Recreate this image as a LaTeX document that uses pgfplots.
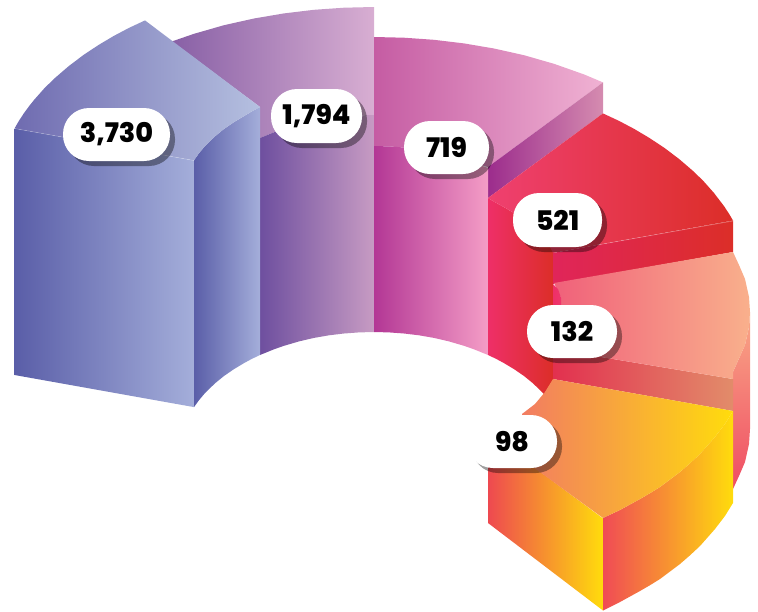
\documentclass[border=0pt]{standalone}
\usepackage{pgfplots}
\usepackage{fontspec}
\setmainfont{Poppins}[BoldFont={Poppins ExtraBold}]
\pgfplotsset{compat=1.18}
\newcommand{\hx}[2]{\definecolor{#1}{HTML}{#2}}
\hx{bA}{6F6BB0}\hx{bB}{B5C0E0}\hx{bC}{5A5EA8}\hx{bD}{A4AEDA}
\hx{pA}{8860A6}\hx{pB}{D8AED2}\hx{pC}{6E4F9F}\hx{pD}{C79BC3}
\hx{mA}{C55CA3}\hx{mB}{F0B2D3}\hx{mC}{9C2C8C}\hx{mD}{D58CB0}\hx{mE}{B33795}\hx{mF}{F49DC6}
\hx{rA}{EF4070}\hx{rB}{DC2E28}\hx{rC}{EE2F68}\hx{rD}{E0255A}
\hx{sA}{F0607A}\hx{sB}{F9B08C}\hx{sC}{E2304F}\hx{sD}{E28C6A}\hx{sE}{F9A887}\hx{sF}{EF4C63}
\hx{yA}{F27C62}\hx{yB}{FFDC0C}\hx{yC}{EE4950}\hx{yD}{F04B55}
\tikzset{
 pill/.style={rounded corners=26pt,inner sep=0pt,font=\fontsize{27}{27}\selectfont\bfseries},
}
\newcommand{\lbl}[5]{%
 \node[pill,fill=black,fill opacity=.38,minimum width=#3pt,minimum height=#4pt] at (axis cs:#1+5,#2+5) {};
 \node[pill,fill=white,text=black,minimum width=#3pt,minimum height=#4pt] at (axis cs:#1,#2) {#5};
}
\begin{document}
\begin{tikzpicture}
\begin{axis}[scale only axis,width=758pt,height=611pt,xmin=0,xmax=758,ymin=0,ymax=611,y dir=reverse,hide axis,clip=false]
\path (axis cs:0,0) rectangle (axis cs:758,611);
% purple
\addplot[draw=none,left color=pA,right color=pB] coordinates {(172,41.4)(194,33.8)(224,25.2)(254,18.5)(284,13.4)(314,9.8)(344,7.7)(374,7)(374,115)(359,115.4)(344,116.5)(329,118.3)(314,120.9)(299,124.4)(284,128.8)(274,132.3)(260,138)(260,107)} -- cycle;
\addplot[draw=none,left color=pC,right color=pD] coordinates {(260,138)(274,132.3)(284,128.8)(299,124.4)(314,120.9)(329,118.3)(344,116.5)(359,115.4)(374,115)(374,332)(359,332.4)(344,333.5)(329,335.3)(314,337.9)(299,341.4)(284,345.8)(274,349.3)(260,355)} -- cycle;
% magenta
\addplot[draw=none,left color=mA,right color=mB] coordinates {(374,37)(404,37.7)(434,39.8)(464,43.4)(494,48.5)(524,55.2)(554,63.8)(584,74.4)(603,82.4)(488,167)(474,163.3)(464,159.8)(449,155.4)(434,151.9)(419,149.3)(404,147.5)(389,146.4)(374,146)} -- cycle;
\addplot[draw=none,left color=mC,right color=mD] coordinates {(488,167)(603,82.4)(603,113.4)(488,198)} -- cycle;
\addplot[draw=none,left color=mE,right color=mF] coordinates {(374,146)(389,146.4)(404,147.5)(419,149.3)(434,151.9)(449,155.4)(464,159.8)(474,163.3)(488,168)(488,355)(474,349.3)(464,345.8)(449,341.4)(434,337.9)(419,335.3)(404,333.5)(389,332.4)(374,332)} -- cycle;
% right strip
\addplot[draw=none,top color=sE,bottom color=sF] coordinates {(733,372)(745,345)(749,327)(750,312)(750,429)(749,444)(745,462)(739,476)(733,489)} -- cycle;
% red
\addplot[draw=none,left color=rC,right color=rB] coordinates {(488,198)(496,202.8)(504,207.1)(514,213.1)(524,220)(532,226.5)(539,233)(544,238.2)(549,245)(553,251)(553,380)(544,394.2)(539,389)(532,382.5)(524,376)(514,369.1)(504,363.1)(496,358.8)(488,355)} -- cycle;
\addplot[draw=none,left color=rA,right color=rB] coordinates {(488,198)(603,113.4)(619,120.9)(634,128.8)(649,137.7)(664,147.6)(679,158.9)(694,171.8)(704,181.7)(714,193)(724,206.1)(729,213.7)(733,220.5)(553,253)(549,245)(544,238.2)(539,233)(532,226.5)(524,220)(514,213.1)(504,207.1)(496,202.8)} -- cycle;
\addplot[draw=none,left color=rD,right color=rB] coordinates {(553,253)(733,220.5)(733,252)(553,284)} -- cycle;
\addplot[white,opacity=.35,line width=.5pt] coordinates {(597,245)(733,221)};
% salmon
\addplot[draw=none,left color=sC,right color=sD] coordinates {(553,349)(733,379)(733,411)(553,379)} -- cycle;
\addplot[draw=none,left color=sA,right color=sB] coordinates {(554,283)(733,252)(739,265)(745,279)(749,297)(750,312)(749,327)(745,345)(733,372)(733,379)(553,349)(561,315)(561,298)} -- cycle;
\addplot[draw=none,left color=rC,right color=rC!85!sA] coordinates {(553,284)(558,289)(561,298)(561,315)(553,315)} -- cycle;
% yellow
\addplot[draw=none,left color=yC,right color=yB] coordinates {(488,433)(603,518.5)(603,610.5)(488,523)} -- cycle;
\addplot[draw=none,left color=yD,right color=yB] coordinates {(603,518)(620,510)(640,499)(650,493.2)(660,487)(670,479.5)(680,472)(690,463.3)(700,454)(715,437)(725,423.9)(733,411)(733,503)(725,515.9)(715,529)(700,546)(690,555.3)(680,564)(670,571.5)(660,579)(650,585.2)(640,591)(620,602)(603,610.5)} -- cycle;
\addplot[draw=none,left color=yA,right color=yB] coordinates {(553,379)(733,411)(725,423.9)(715,437)(700,454)(690,463.3)(680,472)(670,479.5)(660,487)(650,493.2)(640,499)(620,510)(603,518)(533,467)(528,440)(522,414)(535,404)(545,392)} -- cycle;
% blue
\addplot[draw=none,left color=bC,right color=bD] coordinates {(260,107)(260,355)(252,358.8)(244,363.1)(234,369.1)(224,376)(216,382.5)(209,389)(204,394.2)(199,400.2)(194,407.1)(194,160.1)(199,153.2)(204,147.2)(209,142)(216,135.5)(224,129)(234,122.1)(244,116.1)(252,111.3)} -- cycle;
\addplot[draw=none,left color=bA,right color=bB] coordinates {(14.5,128.5)(19,120.7)(24,113.1)(29,106.3)(34,100)(44,88.7)(54,78.8)(69,65.9)(84,54.6)(99,44.7)(114,35.8)(129,27.9)(145,20.4)(260,107)(252,111.3)(244,116.1)(234,122.1)(224,129)(216,135.5)(209,142)(204,147.2)(199,153.2)(194,160.5)} -- cycle;
\addplot[draw=none,left color=bC,right color=bD] coordinates {(14.5,128.5)(194,160.5)(194,407.1)(14.5,375)} -- cycle;
\addplot[white,opacity=.3,line width=.5pt] coordinates {(14.5,128.5)(194,160.5)};
% labels
\lbl{116.5}{134.5}{107}{53}{3,730}
\lbl{316.5}{116}{91}{54}{1,794}
\lbl{446.5}{147.5}{85}{53}{719}
\lbl{557.5}{220}{89}{54}{521}
\lbl{572}{331.5}{90}{53}{132}
\lbl{512}{441.5}{90}{53}{98}
\end{axis}
\end{tikzpicture}
\end{document}
